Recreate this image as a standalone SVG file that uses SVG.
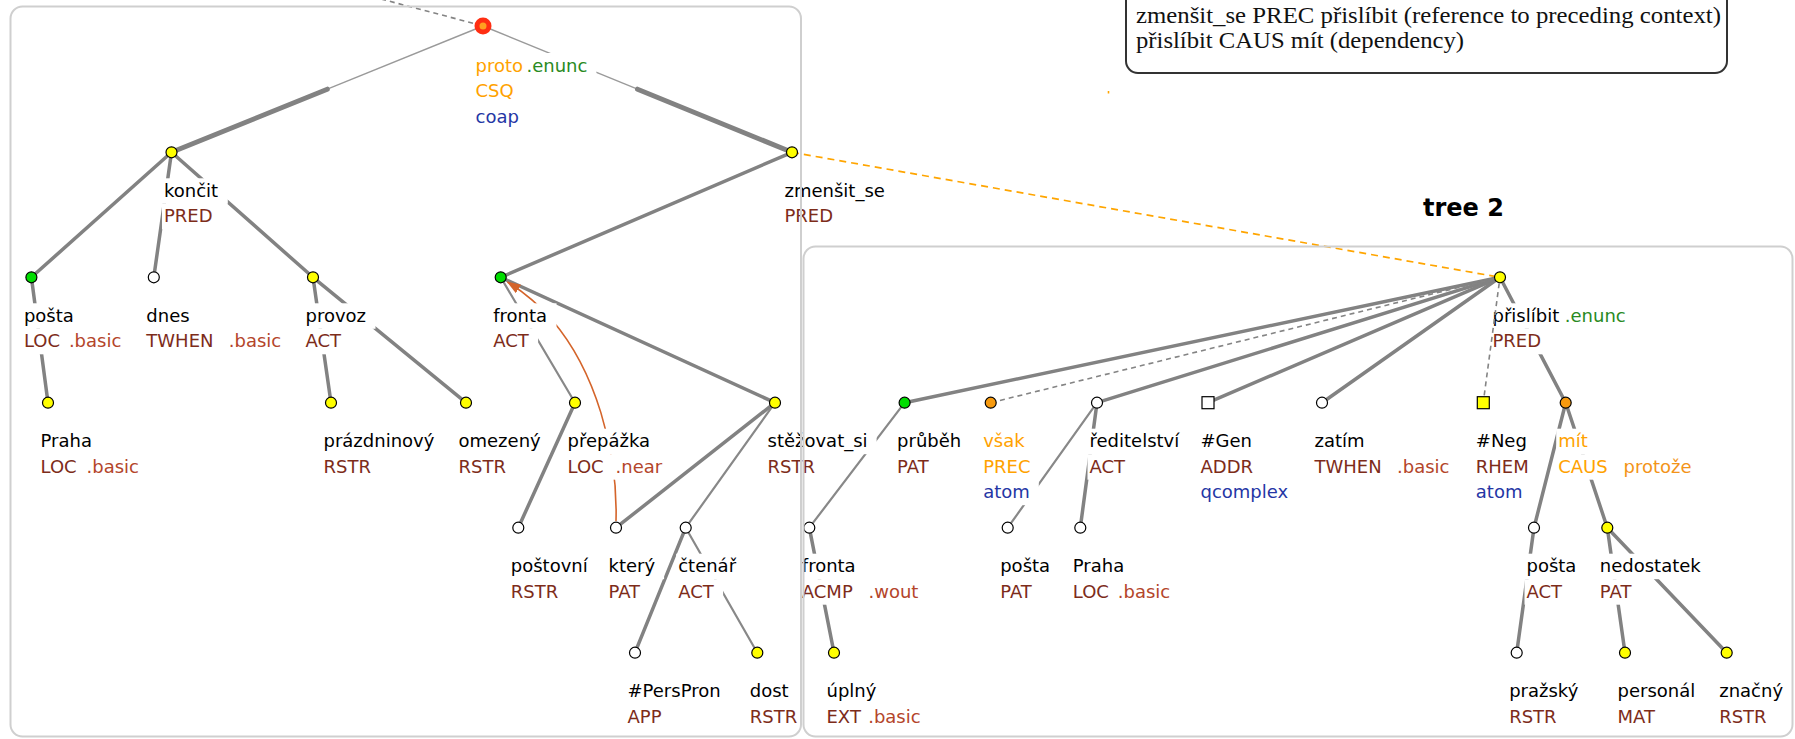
<svg xmlns="http://www.w3.org/2000/svg" width="1795" height="739" viewBox="0 0 1795 739">
  <defs>
    <style>
      text { font-family: "DejaVu Sans", "Liberation Sans", sans-serif; font-size: 18px; }
      .lm { fill: #000000; }
      .fn { fill: #7d2c1a; }
      .sf { fill: #b4452a; }
      .or { fill: #ffa200; }
      .og { fill: #f39419; }
      .gr { fill: #2a8a22; }
      .bl { fill: #2536a5; }
      .lb { fill: #ffffff; }
      .e  { stroke: #828282; stroke-width: 3.5; fill: none; stroke-linecap: round; }
      .ek { stroke: #828282; stroke-width: 5; fill: none; stroke-linecap: round; }
      .el { stroke: #888888; stroke-width: 2.2; fill: none; stroke-linecap: round; }
      .et { stroke: #9a9a9a; stroke-width: 1.4; fill: none; }
      .ed { stroke: #848484; stroke-width: 1.6; fill: none; stroke-dasharray: 5 4; }
      .ep { stroke: #ffa500; stroke-width: 1.7; fill: none; stroke-dasharray: 7 5; }
      .cr { stroke: #d4642a; stroke-width: 1.6; fill: none; }
      .nd { stroke: #000000; stroke-width: 1.2; }
      .y { fill: #ffff00; }
      .g { fill: #00dd00; }
      .w { fill: #ffffff; }
      .o { fill: #f79a0e; }
      .frame { fill: none; stroke: #cfcfcf; stroke-width: 2; }
      .legend { font-family: "Liberation Serif", "DejaVu Serif", serif; font-size: 23px; fill: #111; }
      .title { font-family: "DejaVu Sans", sans-serif; font-size: 24px; font-weight: bold; fill: #000; }
    </style>
    <marker id="coref-head" viewBox="0 0 14 10" refX="13" refY="5" markerWidth="14" markerHeight="10" markerUnits="userSpaceOnUse" orient="auto">
      <path d="M0,0 L14,5 L0,10 z" fill="#d4642a"/>
    </marker>
  </defs>

  <rect x="0" y="0" width="1795" height="739" fill="#ffffff"/>

  <!-- edges -->
  <g id="connectors">
    <!-- link to the technical root (off canvas) -->
    <line class="ed" x1="355" y1="-7.8" x2="476" y2="24"/>
    <!-- coordination members of proto: thin upper half, thick lower half -->
    <line class="et" x1="483" y1="26" x2="327.3" y2="89.2"/>
    <line class="ek" x1="327.3" y1="89.2" x2="171.5" y2="152.3"/>
    <line class="et" x1="483" y1="26" x2="637.5" y2="89.2"/>
    <line class="ek" x1="637.5" y1="89.2" x2="792" y2="152.3"/>
    <!-- tree 1 dependencies -->
    <line class="e" x1="171.5" y1="152.3" x2="31.4" y2="277.3"/>
    <line class="e" x1="171.5" y1="152.3" x2="153.8" y2="277.3"/>
    <line class="e" x1="171.5" y1="152.3" x2="313" y2="277.3"/>
    <line class="e" x1="31.4" y1="277.3" x2="48" y2="402.7"/>
    <line class="e" x1="313" y1="277.3" x2="331" y2="402.7"/>
    <line class="e" x1="313" y1="277.3" x2="466" y2="402.7"/>
    <line class="e" x1="792" y1="152.3" x2="500.7" y2="277.3"/>
    <line class="el" x1="500.7" y1="277.3" x2="575" y2="402.7"/>
    <line class="e" x1="500.7" y1="277.3" x2="775" y2="402.7"/>
    <line class="e" x1="575" y1="402.7" x2="518.3" y2="527.7"/>
    <line class="e" x1="775" y1="402.7" x2="616" y2="527.7"/>
    <line class="el" x1="775" y1="402.7" x2="685.7" y2="527.7"/>
    <line class="e" x1="685.7" y1="527.7" x2="635" y2="652.7"/>
    <line class="el" x1="685.7" y1="527.7" x2="757.3" y2="652.7"/>
    <!-- coreference: který -> fronta -->
    <path class="cr" d="M616,521 C618,450 595,370 552,320 C540,306 525,293 507.5,282" marker-end="url(#coref-head)"/>
    <!-- discourse link: zmenšit_se PREC přislíbit -->
    <line class="ep" x1="792" y1="152.3" x2="1500" y2="277.3"/>
    <line x1="1108.5" y1="91" x2="1108.5" y2="93.5" stroke="#ffa500" stroke-width="1.6"/>
    <!-- tree 2 dependencies -->
    <line class="e" x1="1500" y1="277.3" x2="904.6" y2="402.7"/>
    <line class="e" x1="1500" y1="277.3" x2="1097" y2="402.7"/>
    <line class="e" x1="1500" y1="277.3" x2="1208" y2="402.7"/>
    <line class="e" x1="1500" y1="277.3" x2="1322" y2="402.7"/>
    <line class="e" x1="1500" y1="277.3" x2="1565.7" y2="402.7"/>
    <line class="el" x1="904.6" y1="402.7" x2="809.3" y2="527.7"/>
    <line class="e" x1="809.3" y1="527.7" x2="834" y2="652.7"/>
    <line class="el" x1="1097" y1="402.7" x2="1007.7" y2="527.7"/>
    <line class="e" x1="1097" y1="402.7" x2="1080.3" y2="527.7"/>
    <line class="e" x1="1565.7" y1="402.7" x2="1534" y2="527.7"/>
    <line class="e" x1="1565.7" y1="402.7" x2="1607.3" y2="527.7"/>
    <line class="e" x1="1534" y1="527.7" x2="1516.7" y2="652.7"/>
    <line class="e" x1="1607.3" y1="527.7" x2="1625" y2="652.7"/>
    <line class="e" x1="1607.3" y1="527.7" x2="1726.7" y2="652.7"/>
  </g>

  <!-- tree 1 nodes -->
  <g id="n-proto">
    <rect class="lb" x="473.5" y="53" width="122.9" height="25.5"/>
    <rect class="lb" x="473.5" y="78.5" width="49.2" height="25.5"/>
    <rect class="lb" x="473.5" y="104" width="54.4" height="25.5"/>
    <text x="475.5" y="71.5"><tspan class="or">proto</tspan><tspan class="gr" x="526.5">.enunc</tspan></text>
    <text class="or" x="475.5" y="97">CSQ</text>
    <text class="bl" x="475.5" y="122.5">coap</text>
    <circle cx="483" cy="26" r="8.5" fill="#ff2e12"/>
    <circle cx="483" cy="26" r="3.5" fill="#ffa020"/>
  </g>
  <g id="n-koncit">
    <rect class="lb" x="162" y="178.3" width="65.8" height="25.5"/>
    <rect class="lb" x="162" y="203.8" width="59.6" height="25.5"/>
    <text class="lm" x="164" y="196.8">končit</text>
    <text class="fn" x="164" y="222.3">PRED</text>
    <circle class="nd y" cx="171.5" cy="152.3" r="5.5"/>
  </g>
  <g id="n-zmensit_se">
    <rect class="lb" x="782.5" y="178.3" width="111.4" height="25.5"/>
    <rect class="lb" x="782.5" y="203.8" width="59.6" height="25.5"/>
    <text class="lm" x="784.5" y="196.8">zmenšit_se</text>
    <text class="fn" x="784.5" y="222.3">PRED</text>
    <circle class="nd y" cx="792" cy="152.3" r="5.5"/>
  </g>
  <g id="n-posta-loc">
    <rect class="lb" x="21.9" y="303.3" width="60.9" height="25.5"/>
    <rect class="lb" x="21.9" y="328.8" width="109.5" height="25.5"/>
    <text class="lm" x="23.9" y="321.8">pošta</text>
    <text x="23.9" y="347.3"><tspan class="fn">LOC</tspan><tspan class="sf" x="68.9">.basic</tspan></text>
    <circle class="nd g" cx="31.4" cy="277.3" r="5.5"/>
  </g>
  <g id="n-dnes">
    <rect class="lb" x="144.3" y="303.3" width="54.3" height="25.5"/>
    <rect class="lb" x="144.3" y="328.8" width="146" height="25.5"/>
    <text class="lm" x="146.3" y="321.8">dnes</text>
    <text x="146.3" y="347.3"><tspan class="fn">TWHEN</tspan><tspan class="sf" x="228.8">.basic</tspan></text>
    <circle class="nd w" cx="153.8" cy="277.3" r="5.5"/>
  </g>
  <g id="n-provoz">
    <rect class="lb" x="303.5" y="303.3" width="72" height="25.5"/>
    <rect class="lb" x="303.5" y="328.8" width="46.9" height="25.5"/>
    <text class="lm" x="305.5" y="321.8">provoz</text>
    <text class="fn" x="305.5" y="347.3">ACT</text>
    <circle class="nd y" cx="313" cy="277.3" r="5.5"/>
  </g>
  <g id="n-fronta-act">
    <rect class="lb" x="491.2" y="303.3" width="65.3" height="25.5"/>
    <rect class="lb" x="491.2" y="328.8" width="46.9" height="25.5"/>
    <text class="lm" x="493.2" y="321.8">fronta</text>
    <text class="fn" x="493.2" y="347.3">ACT</text>
    <circle class="nd g" cx="500.7" cy="277.3" r="5.5"/>
  </g>
  <g id="n-praha-1">
    <rect class="lb" x="38.5" y="428.7" width="62.7" height="25.5"/>
    <rect class="lb" x="38.5" y="454.2" width="109.5" height="25.5"/>
    <text class="lm" x="40.5" y="447.2">Praha</text>
    <text x="40.5" y="472.7"><tspan class="fn">LOC</tspan><tspan class="sf" x="86.5">.basic</tspan></text>
    <circle class="nd y" cx="48" cy="402.7" r="5.5"/>
  </g>
  <g id="n-prazdninovy">
    <rect class="lb" x="321.5" y="428.7" width="121.9" height="25.5"/>
    <rect class="lb" x="321.5" y="454.2" width="58.4" height="25.5"/>
    <text class="lm" x="323.5" y="447.2">prázdninový</text>
    <text class="fn" x="323.5" y="472.7">RSTR</text>
    <circle class="nd y" cx="331" cy="402.7" r="5.5"/>
  </g>
  <g id="n-omezeny">
    <rect class="lb" x="456.5" y="428.7" width="93.2" height="25.5"/>
    <rect class="lb" x="456.5" y="454.2" width="58.4" height="25.5"/>
    <text class="lm" x="458.5" y="447.2">omezený</text>
    <text class="fn" x="458.5" y="472.7">RSTR</text>
    <circle class="nd y" cx="466" cy="402.7" r="5.5"/>
  </g>
  <g id="n-prepazka">
    <rect class="lb" x="565.5" y="428.7" width="94.3" height="25.5"/>
    <rect class="lb" x="565.5" y="454.2" width="106.6" height="25.5"/>
    <text class="lm" x="567.5" y="447.2">přepážka</text>
    <text x="567.5" y="472.7"><tspan class="fn">LOC</tspan><tspan class="sf" x="615.5">.near</tspan></text>
    <circle class="nd y" cx="575" cy="402.7" r="5.5"/>
  </g>
  <g id="n-stezovat_si">
    <rect class="lb" x="765.5" y="428.7" width="111.1" height="25.5"/>
    <rect class="lb" x="765.5" y="454.2" width="58.4" height="25.5"/>
    <text class="lm" x="767.5" y="447.2">stěžovat_si</text>
    <text class="fn" x="767.5" y="472.7">RSTR</text>
    <circle class="nd y" cx="775" cy="402.7" r="5.5"/>
  </g>
  <g id="n-postovni">
    <rect class="lb" x="508.8" y="553.7" width="88" height="25.5"/>
    <rect class="lb" x="508.8" y="579.2" width="58.4" height="25.5"/>
    <text class="lm" x="510.8" y="572.2">poštovní</text>
    <text class="fn" x="510.8" y="597.7">RSTR</text>
    <circle class="nd w" cx="518.3" cy="527.7" r="5.5"/>
  </g>
  <g id="n-ktery">
    <rect class="lb" x="606.5" y="553.7" width="57.6" height="25.5"/>
    <rect class="lb" x="606.5" y="579.2" width="45.2" height="25.5"/>
    <text class="lm" x="608.5" y="572.2">který</text>
    <text class="fn" x="608.5" y="597.7">PAT</text>
    <circle class="nd w" cx="616" cy="527.7" r="5.5"/>
  </g>
  <g id="n-ctenar">
    <rect class="lb" x="676.2" y="553.7" width="68.9" height="25.5"/>
    <rect class="lb" x="676.2" y="579.2" width="46.9" height="25.5"/>
    <text class="lm" x="678.2" y="572.2">čtenář</text>
    <text class="fn" x="678.2" y="597.7">ACT</text>
    <circle class="nd w" cx="685.7" cy="527.7" r="5.5"/>
  </g>
  <g id="n-perspron">
    <rect class="lb" x="625.5" y="678.7" width="105.5" height="25.5"/>
    <rect class="lb" x="625.5" y="704.2" width="45" height="25.5"/>
    <text class="lm" x="627.5" y="697.2">#PersPron</text>
    <text class="fn" x="627.5" y="722.7">APP</text>
    <circle class="nd w" cx="635" cy="652.7" r="5.5"/>
  </g>
  <g id="n-dost">
    <rect class="lb" x="747.8" y="678.7" width="49.9" height="25.5"/>
    <rect class="lb" x="747.8" y="704.2" width="58.4" height="25.5"/>
    <text class="lm" x="749.8" y="697.2">dost</text>
    <text class="fn" x="749.8" y="722.7">RSTR</text>
    <circle class="nd y" cx="757.3" cy="652.7" r="5.5"/>
  </g>

  <!-- tree 2 nodes -->
  <g id="n-prislibit">
    <rect class="lb" x="1490.5" y="303.3" width="144.2" height="25.5"/>
    <rect class="lb" x="1490.5" y="328.8" width="59.6" height="25.5"/>
    <text x="1492.5" y="321.8"><tspan class="lm">přislíbit</tspan><tspan class="gr" x="1564.8">.enunc</tspan></text>
    <text class="fn" x="1492.5" y="347.3">PRED</text>
    <circle class="nd y" cx="1500" cy="277.3" r="5.5"/>
  </g>
  <g id="n-prubeh">
    <rect class="lb" x="895.1" y="428.7" width="75.2" height="25.5"/>
    <rect class="lb" x="895.1" y="454.2" width="45.2" height="25.5"/>
    <text class="lm" x="897.1" y="447.2">průběh</text>
    <text class="fn" x="897.1" y="472.7">PAT</text>
    <circle class="nd g" cx="904.6" cy="402.7" r="5.5"/>
  </g>
  <g id="n-vsak">
    <rect class="lb" x="981.2" y="428.7" width="52.5" height="25.5"/>
    <rect class="lb" x="981.2" y="454.2" width="58.3" height="25.5"/>
    <rect class="lb" x="981.2" y="479.7" width="57.6" height="25.5"/>
    <text class="or" x="983.2" y="447.2">však</text>
    <text class="or" x="983.2" y="472.7">PREC</text>
    <text class="bl" x="983.2" y="498.2">atom</text>
    <circle class="nd o" cx="990.7" cy="402.7" r="5.5"/>
  </g>
  <g id="n-reditelstvi">
    <rect class="lb" x="1087.5" y="428.7" width="101.1" height="25.5"/>
    <rect class="lb" x="1087.5" y="454.2" width="46.9" height="25.5"/>
    <text class="lm" x="1089.5" y="447.2">ředitelství</text>
    <text class="fn" x="1089.5" y="472.7">ACT</text>
    <circle class="nd w" cx="1097" cy="402.7" r="5.5"/>
  </g>
  <g id="n-gen">
    <rect class="lb" x="1198.5" y="428.7" width="62.5" height="25.5"/>
    <rect class="lb" x="1198.5" y="454.2" width="63.5" height="25.5"/>
    <rect class="lb" x="1198.5" y="479.7" width="99" height="25.5"/>
    <text class="lm" x="1200.5" y="447.2">#Gen</text>
    <text class="fn" x="1200.5" y="472.7">ADDR</text>
    <text class="bl" x="1200.5" y="498.2">qcomplex</text>
    <rect class="nd w" x="1202" y="396.7" width="12" height="12"/>
  </g>
  <g id="n-zatim">
    <rect class="lb" x="1312.5" y="428.7" width="61.1" height="25.5"/>
    <rect class="lb" x="1312.5" y="454.2" width="146" height="25.5"/>
    <text class="lm" x="1314.5" y="447.2">zatím</text>
    <text x="1314.5" y="472.7"><tspan class="fn">TWHEN</tspan><tspan class="sf" x="1397">.basic</tspan></text>
    <circle class="nd w" cx="1322" cy="402.7" r="5.5"/>
  </g>
  <g id="n-neg">
    <rect class="lb" x="1473.8" y="428.7" width="62" height="25.5"/>
    <rect class="lb" x="1473.8" y="454.2" width="64" height="25.5"/>
    <rect class="lb" x="1473.8" y="479.7" width="57.6" height="25.5"/>
    <text class="lm" x="1475.8" y="447.2">#Neg</text>
    <text class="fn" x="1475.8" y="472.7">RHEM</text>
    <text class="bl" x="1475.8" y="498.2">atom</text>
    <rect class="nd y" x="1477.3" y="396.7" width="12" height="12"/>
  </g>
  <g id="n-mit">
    <rect class="lb" x="1556.2" y="428.7" width="40.6" height="25.5"/>
    <rect class="lb" x="1556.2" y="454.2" width="144.8" height="25.5"/>
    <text class="or" x="1558.2" y="447.2">mít</text>
    <text x="1558.2" y="472.7"><tspan class="or">CAUS</tspan><tspan class="og" x="1623.6">protože</tspan></text>
    <circle class="nd o" cx="1565.7" cy="402.7" r="5.5"/>
  </g>
  <g id="n-fronta-acmp">
    <rect class="lb" x="799.8" y="553.7" width="65.3" height="25.5"/>
    <rect class="lb" x="799.8" y="579.2" width="127.6" height="25.5"/>
    <text class="lm" x="801.8" y="572.2">fronta</text>
    <text x="801.8" y="597.7"><tspan class="fn">ACMP</tspan><tspan class="sf" x="868.5">.wout</tspan></text>
    <circle class="nd w" cx="809.3" cy="527.7" r="5.5"/>
  </g>
  <g id="n-posta-pat">
    <rect class="lb" x="998.2" y="553.7" width="60.9" height="25.5"/>
    <rect class="lb" x="998.2" y="579.2" width="45.2" height="25.5"/>
    <text class="lm" x="1000.2" y="572.2">pošta</text>
    <text class="fn" x="1000.2" y="597.7">PAT</text>
    <circle class="nd w" cx="1007.7" cy="527.7" r="5.5"/>
  </g>
  <g id="n-praha-2">
    <rect class="lb" x="1070.8" y="553.7" width="62.7" height="25.5"/>
    <rect class="lb" x="1070.8" y="579.2" width="109.5" height="25.5"/>
    <text class="lm" x="1072.8" y="572.2">Praha</text>
    <text x="1072.8" y="597.7"><tspan class="fn">LOC</tspan><tspan class="sf" x="1117.8">.basic</tspan></text>
    <circle class="nd w" cx="1080.3" cy="527.7" r="5.5"/>
  </g>
  <g id="n-posta-act">
    <rect class="lb" x="1524.5" y="553.7" width="60.9" height="25.5"/>
    <rect class="lb" x="1524.5" y="579.2" width="46.9" height="25.5"/>
    <text class="lm" x="1526.5" y="572.2">pošta</text>
    <text class="fn" x="1526.5" y="597.7">ACT</text>
    <circle class="nd w" cx="1534" cy="527.7" r="5.5"/>
  </g>
  <g id="n-nedostatek">
    <rect class="lb" x="1597.8" y="553.7" width="111.9" height="25.5"/>
    <rect class="lb" x="1597.8" y="579.2" width="45.2" height="25.5"/>
    <text class="lm" x="1599.8" y="572.2">nedostatek</text>
    <text class="fn" x="1599.8" y="597.7">PAT</text>
    <circle class="nd y" cx="1607.3" cy="527.7" r="5.5"/>
  </g>
  <g id="n-uplny">
    <rect class="lb" x="824.5" y="678.7" width="60.9" height="25.5"/>
    <rect class="lb" x="824.5" y="704.2" width="105.2" height="25.5"/>
    <text class="lm" x="826.5" y="697.2">úplný</text>
    <text x="826.5" y="722.7"><tspan class="fn">EXT</tspan><tspan class="sf" x="868.2">.basic</tspan></text>
    <circle class="nd y" cx="834" cy="652.7" r="5.5"/>
  </g>
  <g id="n-prazsky">
    <rect class="lb" x="1507.2" y="678.7" width="80.8" height="25.5"/>
    <rect class="lb" x="1507.2" y="704.2" width="58.4" height="25.5"/>
    <text class="lm" x="1509.2" y="697.2">pražský</text>
    <text class="fn" x="1509.2" y="722.7">RSTR</text>
    <circle class="nd w" cx="1516.7" cy="652.7" r="5.5"/>
  </g>
  <g id="n-personal">
    <rect class="lb" x="1615.5" y="678.7" width="88.7" height="25.5"/>
    <rect class="lb" x="1615.5" y="704.2" width="49.8" height="25.5"/>
    <text class="lm" x="1617.5" y="697.2">personál</text>
    <text class="fn" x="1617.5" y="722.7">MAT</text>
    <circle class="nd y" cx="1625" cy="652.7" r="5.5"/>
  </g>
  <g id="n-znacny">
    <rect class="lb" x="1717.2" y="678.7" width="74.9" height="25.5"/>
    <rect class="lb" x="1717.2" y="704.2" width="58.4" height="25.5"/>
    <text class="lm" x="1719.2" y="697.2">značný</text>
    <text class="fn" x="1719.2" y="722.7">RSTR</text>
    <circle class="nd y" cx="1726.7" cy="652.7" r="5.5"/>
  </g>

  <!-- atom edges are drawn above the labels -->
  <g id="connectors-atoms">
    <line class="ed" x1="1494.2" y1="278.7" x2="996.5" y2="401.3"/>
    <line class="ed" x1="1499.2" y1="283.3" x2="1484.1" y2="396.2"/>
  </g>

  <!-- tree frames -->
  <g id="frames">
    <rect class="frame" x="10.5" y="6.5" width="790.5" height="730" rx="12"/>
    <rect class="frame" x="803.5" y="246.5" width="989" height="490" rx="12"/>
    <text class="title" x="1423" y="216">tree 2</text>
  </g>

  <!-- legend of inter-sentential relations -->
  <g id="legend">
    <rect x="1126" y="-20" width="601" height="93" rx="12" fill="#ffffff" stroke="#333333" stroke-width="2"/>
    <text class="legend" x="1136" y="23" textLength="585" lengthAdjust="spacingAndGlyphs">zmenšit_se PREC přislíbit (reference to preceding context)</text>
    <text class="legend" x="1136" y="48" textLength="328" lengthAdjust="spacingAndGlyphs">přislíbit CAUS mít (dependency)</text>
  </g>
</svg>
